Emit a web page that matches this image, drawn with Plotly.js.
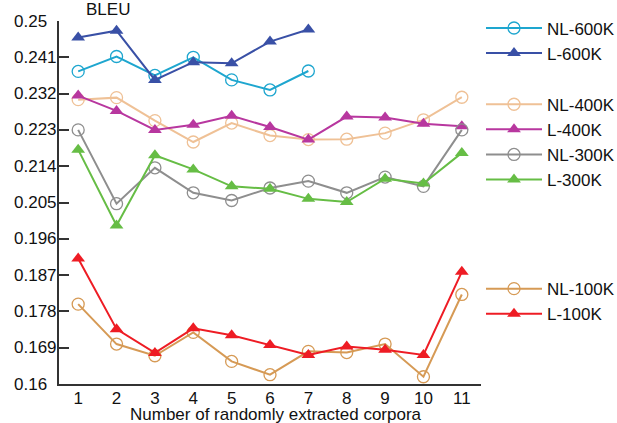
<!DOCTYPE html>
<html>
<head>
<meta charset="utf-8">
<script src="https://cdn.plot.ly/plotly-3.0.1.min.js"></script>
<style>html,body{margin:0;padding:0;background:#fff;}#chart{width:617px;height:423px;}</style>
</head>
<body>
<div id="chart"></div>
<script>
const xCats = [1,2,3,4,5,6,7,8,9,10,11];
const yTickVals = [0.16,0.169,0.178,0.187,0.196,0.205,0.214,0.223,0.232,0.241,0.25];
const yTickText = ["0.16","0.169","0.178","0.187","0.196","0.205","0.214","0.223","0.232","0.241","0.25"];

const nl600 = [0.2375,0.2412,0.2365,0.2410,0.2354,0.2329,0.2376];
const l600  = [0.2459,0.2476,0.2354,0.2398,0.2395,0.2449,0.2479];
const nl400 = [0.2305,0.2310,0.2253,0.2200,0.2247,0.2216,0.2206,0.2207,0.2222,0.2255,0.2311];
const l400  = [0.2315,0.2277,0.2230,0.2243,0.2265,0.2237,0.2206,0.2263,0.2261,0.2245,0.2239];
const nl300 = [0.2230,0.2047,0.2136,0.2074,0.2055,0.2086,0.2103,0.2074,0.2113,0.2090,0.2230];
const l300  = [0.2181,0.1993,0.2167,0.2132,0.2090,0.2084,0.2059,0.2051,0.2109,0.2097,0.2173];
const nl100 = [0.1798,0.1699,0.1670,0.1728,0.1656,0.1623,0.1681,0.1678,0.1699,0.1618,0.1822];
const l100  = [0.1911,0.1736,0.1677,0.1738,0.1721,0.1697,0.1672,0.1693,0.1685,0.1672,0.1878];

const FONT = 'Liberation Sans, Arial, sans-serif';

function tr(name, y, color, open, legend) {
  return {
    x: xCats.slice(0, y.length), y: y, name: name, type: 'scatter', mode: 'lines+markers',
    line: {color: color, width: 2},
    marker: open ? {symbol: 'circle-open', size: 12, color: color, line: {width: 1.3, color: color}}
                 : {symbol: 'triangle-up', size: 12, color: color},
    legend: legend
  };
}

const data = [
  tr('NL-600K', nl600, '#1ea6cf', true, 'legend'),
  tr('L-600K', l600, '#3950a6', false, 'legend'),
  tr('NL-400K', nl400, '#efc196', true, 'legend2'),
  tr('L-400K', l400, '#b8379f', false, 'legend2'),
  tr('NL-300K', nl300, '#8e8e8e', true, 'legend2'),
  tr('L-300K', l300, '#66bd45', false, 'legend2'),
  tr('NL-100K', nl100, '#d69a55', true, 'legend3'),
  tr('L-100K', l100, '#ee1c24', false, 'legend3')
];

const legBase = {xref: 'container', xanchor: 'left', yanchor: 'top', x: 481/617, bgcolor: 'rgba(0,0,0,0)',
  font: {family: FONT, size: 17, color: '#111'}, tracegroupgap: 0, itemwidth: 56};

const annotations = yTickVals.map((v, i) => ({
  text: yTickText[i], xref: 'paper', yref: 'y', x: -0.1106, y: v, xanchor: 'left', yanchor: 'middle',
  showarrow: false, font: {family: FONT, size: 17, color: '#111'}
}));
annotations.push({text: 'BLEU', xref: 'paper', yref: 'paper', x: 0.06, y: 1.0, xanchor: 'left', yanchor: 'bottom',
  showarrow: false, font: {family: FONT, size: 17, color: '#111'}});
annotations.push({text: 'Number of randomly extracted corpora', xref: 'paper', yref: 'paper', x: 0.514, y: -0.084,
  xanchor: 'center', yanchor: 'middle', showarrow: false, font: {family: FONT, size: 17, color: '#111'}});

const layout = {
  width: 617, height: 423,
  margin: {l: 59, r: 134, t: 21, b: 39},
  paper_bgcolor: '#fff', plot_bgcolor: '#fff',
  font: {family: FONT, size: 17, color: '#111'},
  xaxis: {
    range: [0.5, 11.5], tickvals: xCats, ticks: '', showgrid: false, zeroline: false,
    showline: true, linecolor: '#333', linewidth: 2,
    tickfont: {size: 17}, ticklabelstandoff: -2
  },
  yaxis: {
    range: [0.16, 0.25], tickvals: yTickVals, showticklabels: false,
    ticks: 'inside', ticklen: 10, tickwidth: 2, tickcolor: '#333',
    showgrid: false, zeroline: false, showline: true, linecolor: '#333', linewidth: 2
  },
  legend: Object.assign({}, legBase, {y: 1.029}),
  legend2: Object.assign({}, legBase, {y: 0.819}),
  legend3: Object.assign({}, legBase, {y: 0.311}),
  annotations: annotations
};

Plotly.newPlot('chart', data, layout, {displayModeBar: false, staticPlot: true});
</script>
</body>
</html>
